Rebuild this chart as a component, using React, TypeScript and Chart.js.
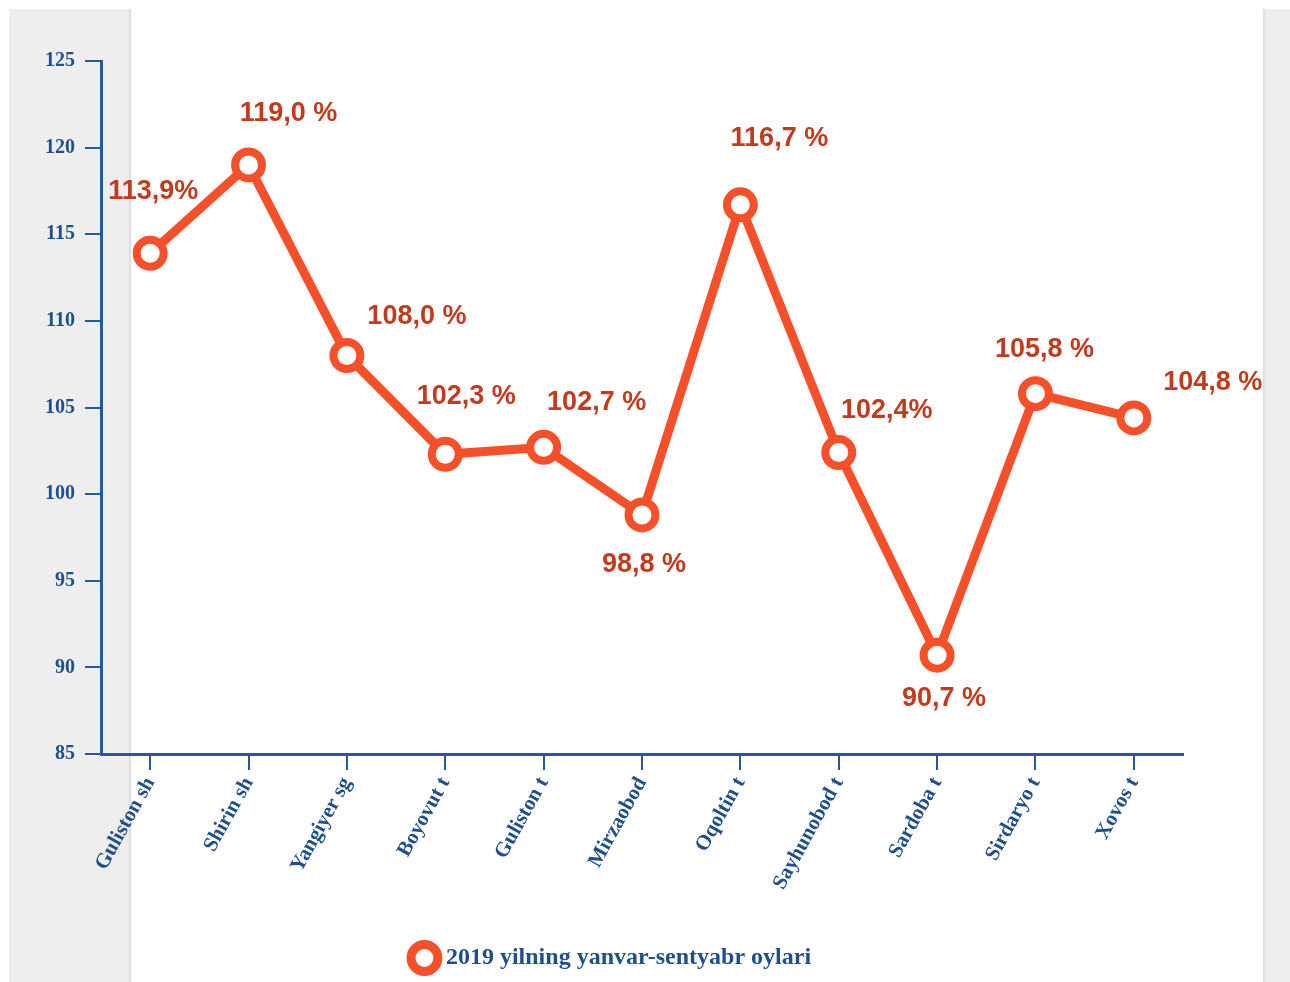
import React, { useEffect, useRef } from "react";
import { Chart, registerables } from "chart.js";

Chart.register(...registerables);

const CATEGORIES = [
  "Guliston sh",
  "Shirin sh",
  "Yangiyer sg",
  "Boyovut t",
  "Guliston t",
  "Mirzaobod",
  "Oqoltin t",
  "Sayhunobod t",
  "Sardoba t",
  "Sirdaryo t",
  "Xovos t",
];
const VALUES = [113.9, 119.0, 108.0, 102.3, 102.7, 98.8, 116.7, 102.4, 90.7, 105.8, 104.4];
const VALUE_LABELS = [
  "113,9%",
  "119,0 %",
  "108,0 %",
  "102,3 %",
  "102,7 %",
  "98,8 %",
  "116,7 %",
  "102,4%",
  "90,7 %",
  "105,8 %",
  "104,8 %",
];
const SERIES_LABEL = "2019 yilning yanvar-sentyabr oylari";
const Y_MIN = 85;
const Y_MAX = 125;
const Y_STEP = 5;

// label placement relative to each point (style, not data)
const LABEL_OFFSETS: [number, number][] = [
  [3, -62],
  [40, -51],
  [70, -39],
  [21, -58],
  [53, -45],
  [2, 50],
  [39, -66],
  [48, -42],
  [7, 43],
  [9, -44],
  [79, -35],
];

const LINE_COLOR = "#f5502a";
const LABEL_COLOR = "#c43a1d";
const AXIS_COLOR = "#25599b";
const TEXT_COLOR = "#1f4f8c";
const SERIF = '"Liberation Serif", "Times New Roman", serif';
const SANS = '"Liberation Sans", Arial, sans-serif';

const valueLabelPlugin = {
  id: "valueLabels",
  afterDatasetsDraw(chart: any) {
    const meta = chart.getDatasetMeta(0);
    const ctx = chart.ctx;
    ctx.save();
    ctx.font = `bold 27px ${SANS}`;
    ctx.fillStyle = LABEL_COLOR;
    ctx.textAlign = "center";
    ctx.textBaseline = "middle";
    meta.data.forEach((pt: any, i: number) => {
      const [dx, dy] = LABEL_OFFSETS[i];
      ctx.fillText(VALUE_LABELS[i], pt.x + dx, pt.y + dy);
    });
    ctx.restore();
  },
};

export default function App() {
  const canvasRef = useRef<HTMLCanvasElement | null>(null);

  useEffect(() => {
    if (!canvasRef.current) return;
    const chart = new Chart(canvasRef.current, {
      type: "line",
      data: {
        labels: CATEGORIES,
        datasets: [
          {
            label: SERIES_LABEL,
            data: VALUES,
            borderColor: LINE_COLOR,
            backgroundColor: "#ffffff",
            borderWidth: 9,
            tension: 0,
            pointRadius: 13.5,
            pointHoverRadius: 13.5,
            pointBorderWidth: 8,
            pointBackgroundColor: "#ffffff",
            pointBorderColor: LINE_COLOR,
            fill: false,
          },
        ],
      },
      options: {
        animation: false,
        responsive: true,
        maintainAspectRatio: false,
        layout: { padding: { left: 43, right: 107, top: 61, bottom: 2 } },
        plugins: {
          tooltip: { enabled: false },
          legend: {
            position: "bottom",
            labels: {
              usePointStyle: true,
              pointStyle: "circle",
              boxWidth: 19,
              boxHeight: 19,
              padding: 10,
              color: TEXT_COLOR,
              font: { family: SERIF, size: 24, weight: "bold" },
              generateLabels: (c: any) =>
                Chart.defaults.plugins.legend.labels
                  .generateLabels(c)
                  .map((it: any) => ({ ...it, lineWidth: 9, fillStyle: "#ffffff", strokeStyle: LINE_COLOR })),
            },
          },
        },
        scales: {
          x: {
            type: "category",
            offset: true,
            grid: {
              display: true,
              drawOnChartArea: false,
              drawTicks: true,
              tickLength: 16,
              color: AXIS_COLOR,
              lineWidth: 2,
            },
            border: { display: true, color: AXIS_COLOR, width: 3 },
            ticks: {
              autoSkip: false,
              minRotation: 61,
              maxRotation: 61,
              padding: 3,
              color: TEXT_COLOR,
              font: { family: SERIF, size: 21, weight: "bold" },
            },
            afterFit: (s: any) => {
              s.height = 182;
            },
          },
          y: {
            min: Y_MIN,
            max: Y_MAX,
            grid: {
              display: true,
              drawOnChartArea: false,
              drawTicks: true,
              tickLength: 16,
              color: AXIS_COLOR,
              lineWidth: 2,
            },
            border: { display: true, color: AXIS_COLOR, width: 3 },
            ticks: {
              stepSize: Y_STEP,
              padding: 10,
              color: TEXT_COLOR,
              font: { family: SERIF, size: 20, weight: "bold" },
            },
            afterFit: (s: any) => {
              s.width = 58;
            },
          },
        },
      },
      plugins: [valueLabelPlugin],
    } as any);
    return () => chart.destroy();
  }, []);

  return (
    <div
      style={{
        position: "absolute",
        left: 0,
        top: 0,
        width: 1290,
        height: 982,
        background: "#ffffff",
        overflow: "hidden",
      }}
    >
      <div
        style={{
          position: "absolute",
          left: 9,
          top: 9,
          width: 120,
          height: 973,
          background: "#eeeeee",
          borderRight: "2px solid #dedede",
        }}
      />
      <div
        style={{
          position: "absolute",
          left: 1263,
          top: 9,
          width: 27,
          height: 973,
          background: "#eeeeee",
          borderLeft: "2px solid #dedede",
          boxSizing: "border-box",
        }}
      />
      <div style={{ position: "absolute", left: 0, top: 0, width: 1290, height: 982 }}>
        <canvas ref={canvasRef} />
      </div>
    </div>
  );
}
